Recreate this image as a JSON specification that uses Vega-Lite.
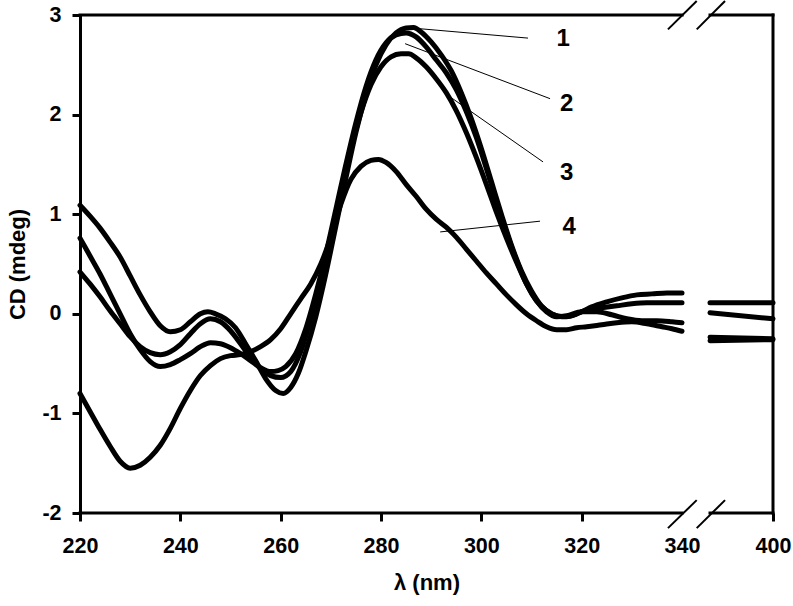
{
  "$schema": "https://vega.github.io/schema/vega-lite/v6.json",
  "width": 693,
  "height": 498,
  "autosize": {"type": "none"},
  "padding": {"left": 80, "top": 15, "right": 20, "bottom": 93},
  "background": "white",
  "config": {"view": {"stroke": null}, "font": "Liberation Sans"},
  "datasets": {
    "curves": [
      {"id":"A","x":220,"y":1.09},{"id":"A","x":222,"y":0.98},{"id":"A","x":224,"y":0.86},{"id":"A","x":226,"y":0.72},{"id":"A","x":228,"y":0.57},{"id":"A","x":230,"y":0.38},{"id":"A","x":232,"y":0.19},{"id":"A","x":234,"y":0.02},{"id":"A","x":236,"y":-0.12},{"id":"A","x":238,"y":-0.18},{"id":"A","x":240,"y":-0.16},{"id":"A","x":242,"y":-0.08},{"id":"A","x":244,"y":0.0},{"id":"A","x":245.5,"y":0.02},{"id":"A","x":247,"y":0.0},{"id":"A","x":249,"y":-0.05},{"id":"A","x":251,"y":-0.14},{"id":"A","x":253,"y":-0.3},{"id":"A","x":255,"y":-0.47},{"id":"A","x":257,"y":-0.65},{"id":"A","x":259,"y":-0.77},{"id":"A","x":260.5,"y":-0.8},{"id":"A","x":262,"y":-0.74},{"id":"A","x":263.5,"y":-0.6},{"id":"A","x":265,"y":-0.38},{"id":"A","x":267,"y":-0.03},{"id":"A","x":269,"y":0.4},{"id":"A","x":271,"y":0.88},{"id":"A","x":273,"y":1.36},{"id":"A","x":275,"y":1.82},{"id":"A","x":277,"y":2.2},{"id":"A","x":279,"y":2.5},{"id":"A","x":281,"y":2.7},{"id":"A","x":283,"y":2.82},{"id":"A","x":285,"y":2.87},{"id":"A","x":286.5,"y":2.875},{"id":"A","x":288,"y":2.83},{"id":"A","x":290,"y":2.73},{"id":"A","x":292,"y":2.6},{"id":"A","x":294,"y":2.44},{"id":"A","x":296,"y":2.22},{"id":"A","x":298,"y":1.96},{"id":"A","x":300,"y":1.66},{"id":"A","x":302,"y":1.33},{"id":"A","x":304,"y":1.0},{"id":"A","x":306,"y":0.69},{"id":"A","x":308,"y":0.43},{"id":"A","x":310,"y":0.23},{"id":"A","x":312,"y":0.08},{"id":"A","x":314,"y":0.0},{"id":"A","x":316,"y":-0.03},{"id":"A","x":318,"y":-0.02},{"id":"A","x":320,"y":0.02},{"id":"A","x":322,"y":0.07},{"id":"A","x":325,"y":0.12},{"id":"A","x":328,"y":0.16},{"id":"A","x":331,"y":0.19},{"id":"A","x":334,"y":0.2},{"id":"A","x":337,"y":0.21},{"id":"A","x":340,"y":0.21},
      {"id":"B","x":220,"y":0.76},{"id":"B","x":222,"y":0.58},{"id":"B","x":224,"y":0.4},{"id":"B","x":226,"y":0.2},{"id":"B","x":228,"y":0.0},{"id":"B","x":230,"y":-0.2},{"id":"B","x":232,"y":-0.36},{"id":"B","x":234,"y":-0.48},{"id":"B","x":236,"y":-0.53},{"id":"B","x":238,"y":-0.51},{"id":"B","x":240,"y":-0.46},{"id":"B","x":242,"y":-0.4},{"id":"B","x":244,"y":-0.33},{"id":"B","x":246,"y":-0.29},{"id":"B","x":248,"y":-0.3},{"id":"B","x":250,"y":-0.34},{"id":"B","x":252,"y":-0.4},{"id":"B","x":254,"y":-0.47},{"id":"B","x":256,"y":-0.54},{"id":"B","x":258,"y":-0.58},{"id":"B","x":259.5,"y":-0.57},{"id":"B","x":261,"y":-0.53},{"id":"B","x":263,"y":-0.4},{"id":"B","x":265,"y":-0.15},{"id":"B","x":267,"y":0.2},{"id":"B","x":269,"y":0.6},{"id":"B","x":271,"y":1.05},{"id":"B","x":273,"y":1.5},{"id":"B","x":275,"y":1.92},{"id":"B","x":277,"y":2.28},{"id":"B","x":279,"y":2.55},{"id":"B","x":281,"y":2.72},{"id":"B","x":283,"y":2.8},{"id":"B","x":285,"y":2.82},{"id":"B","x":287,"y":2.78},{"id":"B","x":289,"y":2.68},{"id":"B","x":291,"y":2.55},{"id":"B","x":293,"y":2.42},{"id":"B","x":295,"y":2.25},{"id":"B","x":297,"y":2.03},{"id":"B","x":299,"y":1.77},{"id":"B","x":301,"y":1.46},{"id":"B","x":303,"y":1.13},{"id":"B","x":305,"y":0.82},{"id":"B","x":307,"y":0.54},{"id":"B","x":309,"y":0.3},{"id":"B","x":311,"y":0.13},{"id":"B","x":313,"y":0.03},{"id":"B","x":315,"y":-0.02},{"id":"B","x":317,"y":-0.03},{"id":"B","x":319,"y":0.0},{"id":"B","x":321,"y":0.04},{"id":"B","x":324,"y":0.06},{"id":"B","x":327,"y":0.08},{"id":"B","x":330,"y":0.1},{"id":"B","x":333,"y":0.11},{"id":"B","x":336,"y":0.11},{"id":"B","x":340,"y":0.11},
      {"id":"C","x":220,"y":0.42},{"id":"C","x":222,"y":0.3},{"id":"C","x":224,"y":0.17},{"id":"C","x":226,"y":0.03},{"id":"C","x":228,"y":-0.1},{"id":"C","x":230,"y":-0.23},{"id":"C","x":232,"y":-0.33},{"id":"C","x":234,"y":-0.39},{"id":"C","x":236,"y":-0.41},{"id":"C","x":238,"y":-0.38},{"id":"C","x":240,"y":-0.31},{"id":"C","x":242,"y":-0.2},{"id":"C","x":244,"y":-0.1},{"id":"C","x":246,"y":-0.05},{"id":"C","x":248,"y":-0.08},{"id":"C","x":250,"y":-0.17},{"id":"C","x":252,"y":-0.3},{"id":"C","x":254,"y":-0.44},{"id":"C","x":256,"y":-0.55},{"id":"C","x":258,"y":-0.62},{"id":"C","x":260,"y":-0.64},{"id":"C","x":262,"y":-0.58},{"id":"C","x":264,"y":-0.38},{"id":"C","x":266,"y":-0.05},{"id":"C","x":268,"y":0.35},{"id":"C","x":270,"y":0.78},{"id":"C","x":272,"y":1.22},{"id":"C","x":274,"y":1.65},{"id":"C","x":276,"y":2.02},{"id":"C","x":278,"y":2.3},{"id":"C","x":280,"y":2.48},{"id":"C","x":282,"y":2.58},{"id":"C","x":284,"y":2.61},{"id":"C","x":285.5,"y":2.61},{"id":"C","x":287,"y":2.57},{"id":"C","x":289,"y":2.48},{"id":"C","x":291,"y":2.36},{"id":"C","x":293,"y":2.22},{"id":"C","x":295,"y":2.04},{"id":"C","x":297,"y":1.82},{"id":"C","x":299,"y":1.57},{"id":"C","x":301,"y":1.3},{"id":"C","x":303,"y":1.02},{"id":"C","x":305,"y":0.76},{"id":"C","x":307,"y":0.52},{"id":"C","x":309,"y":0.3},{"id":"C","x":311,"y":0.13},{"id":"C","x":313,"y":0.02},{"id":"C","x":315,"y":-0.03},{"id":"C","x":317,"y":-0.02},{"id":"C","x":320,"y":0.02},{"id":"C","x":323,"y":0.02},{"id":"C","x":326,"y":-0.01},{"id":"C","x":329,"y":-0.05},{"id":"C","x":332,"y":-0.07},{"id":"C","x":335,"y":-0.07},{"id":"C","x":338,"y":-0.08},{"id":"C","x":340,"y":-0.09},
      {"id":"D","x":220,"y":-0.8},{"id":"D","x":222,"y":-0.98},{"id":"D","x":224,"y":-1.16},{"id":"D","x":226,"y":-1.33},{"id":"D","x":228,"y":-1.48},{"id":"D","x":230,"y":-1.55},{"id":"D","x":232,"y":-1.52},{"id":"D","x":234,"y":-1.44},{"id":"D","x":236,"y":-1.32},{"id":"D","x":238,"y":-1.15},{"id":"D","x":240,"y":-0.95},{"id":"D","x":242,"y":-0.77},{"id":"D","x":244,"y":-0.62},{"id":"D","x":246,"y":-0.52},{"id":"D","x":248,"y":-0.45},{"id":"D","x":250,"y":-0.42},{"id":"D","x":252,"y":-0.41},{"id":"D","x":254,"y":-0.38},{"id":"D","x":256,"y":-0.33},{"id":"D","x":258,"y":-0.26},{"id":"D","x":260,"y":-0.15},{"id":"D","x":262,"y":0.0},{"id":"D","x":264,"y":0.15},{"id":"D","x":266,"y":0.3},{"id":"D","x":268,"y":0.5},{"id":"D","x":270,"y":0.77},{"id":"D","x":272,"y":1.1},{"id":"D","x":274,"y":1.35},{"id":"D","x":276,"y":1.48},{"id":"D","x":278,"y":1.54},{"id":"D","x":279.5,"y":1.55},{"id":"D","x":281,"y":1.52},{"id":"D","x":283,"y":1.43},{"id":"D","x":285,"y":1.3},{"id":"D","x":287,"y":1.18},{"id":"D","x":289,"y":1.05},{"id":"D","x":291,"y":0.95},{"id":"D","x":293,"y":0.87},{"id":"D","x":295,"y":0.77},{"id":"D","x":297,"y":0.65},{"id":"D","x":299,"y":0.53},{"id":"D","x":301,"y":0.41},{"id":"D","x":303,"y":0.3},{"id":"D","x":305,"y":0.19},{"id":"D","x":307,"y":0.09},{"id":"D","x":309,"y":0.0},{"id":"D","x":311,"y":-0.07},{"id":"D","x":313,"y":-0.13},{"id":"D","x":315,"y":-0.16},{"id":"D","x":317,"y":-0.16},{"id":"D","x":319,"y":-0.14},{"id":"D","x":321,"y":-0.13},{"id":"D","x":324,"y":-0.11},{"id":"D","x":327,"y":-0.09},{"id":"D","x":330,"y":-0.08},{"id":"D","x":333,"y":-0.1},{"id":"D","x":336,"y":-0.13},{"id":"D","x":338,"y":-0.15},{"id":"D","x":340,"y":-0.175},
      {"id":"Ar","x":387,"y":0.11},{"id":"Ar","x":400,"y":0.11},
      {"id":"Br","x":387,"y":0.01},{"id":"Br","x":400,"y":-0.05},
      {"id":"Cr","x":387,"y":-0.235},{"id":"Cr","x":400,"y":-0.25},
      {"id":"Dr","x":387,"y":-0.27},{"id":"Dr","x":400,"y":-0.26}
    ],
    "frame": [
      {"x":220,"x2":340.2,"y":3,"y2":3},
      {"x":387,"x2":400,"y":3,"y2":3},
      {"x":220,"x2":340.2,"y":-2,"y2":-2},
      {"x":387,"x2":400,"y":-2,"y2":-2},
      {"x":400,"x2":400,"y":-2,"y2":3}
    ],
    "breaks": [
      {"x":337.2,"x2":364.7,"y":-2.152,"y2":-1.871},
      {"x":364.7,"x2":390.1,"y":-2.152,"y2":-1.871},
      {"x":337.2,"x2":364.7,"y":2.856,"y2":3.14},
      {"x":364.7,"x2":390.1,"y":2.856,"y2":3.14}
    ],
    "leaders": [
      {"x":287.8,"x2":309.3,"y":2.862,"y2":2.768},
      {"x":284.8,"x2":313.7,"y":2.712,"y2":2.16},
      {"x":293.8,"x2":312.3,"y":2.177,"y2":1.525},
      {"x":291.8,"x2":311.7,"y":0.822,"y2":0.93}
    ],
    "labels": [
      {"x":316.3,"y":2.76,"t":"1"},
      {"x":317.0,"y":2.105,"t":"2"},
      {"x":317.0,"y":1.416,"t":"3"},
      {"x":317.5,"y":0.87,"t":"4"}
    ]
  },
  "encoding": {
    "x": {
      "field": "x", "type": "quantitative",
      "scale": {"domain": [220, 340, 387, 400], "range": [0, 602, 630, 693], "nice": false, "zero": false},
      "axis": {
        "title": "λ (nm)", "values": [220, 240, 260, 280, 300, 320, 340, 400],
        "domain": false, "grid": false,
        "ticks": true, "tickSize": 8, "tickWidth": 3,
        "tickColor": {"condition": {"test": "datum.value == 340", "value": "transparent"}, "value": "black"},
        "labelFont": "Liberation Sans", "labelFontSize": 21.5, "labelFontWeight": "bold", "labelColor": "black",
        "labelPadding": 14, "labelFlush": false, "labelOverlap": false,
        "titleFont": "Liberation Sans", "titleFontSize": 22, "titleFontWeight": "bold", "titleColor": "black",
        "titlePadding": 16
      }
    },
    "y": {
      "field": "y", "type": "quantitative",
      "scale": {"domain": [-2, 3], "nice": false, "zero": false},
      "axis": {
        "title": "CD (mdeg)", "values": [-2, -1, 0, 1, 2, 3],
        "labelExpr": "datum.value + ''",
        "domain": true, "domainColor": "black", "domainWidth": 3, "grid": false,
        "ticks": true, "tickSize": 8, "tickWidth": 3, "tickColor": "black",
        "labelFont": "Liberation Sans", "labelFontSize": 21.5, "labelFontWeight": "bold", "labelColor": "black",
        "labelPadding": 11, "labelFlush": false, "labelOverlap": false,
        "titleFont": "Liberation Sans", "titleFontSize": 22, "titleFontWeight": "bold", "titleColor": "black",
        "titlePadding": 12
      }
    }
  },
  "layer": [
    {
      "data": {"name": "curves"},
      "mark": {"type": "line", "interpolate": "monotone", "strokeWidth": 5, "strokeCap": "round", "strokeJoin": "round", "color": "black"},
      "encoding": {"detail": {"field": "id"}}
    },
    {
      "data": {"name": "frame"},
      "mark": {"type": "rule", "strokeWidth": 3, "color": "black", "strokeCap": "square"},
      "encoding": {"x2": {"field": "x2"}, "y2": {"field": "y2"}}
    },
    {
      "data": {"name": "breaks"},
      "mark": {"type": "rule", "strokeWidth": 2, "color": "black"},
      "encoding": {"x2": {"field": "x2"}, "y2": {"field": "y2"}}
    },
    {
      "data": {"name": "leaders"},
      "mark": {"type": "rule", "strokeWidth": 1, "color": "black"},
      "encoding": {"x2": {"field": "x2"}, "y2": {"field": "y2"}}
    },
    {
      "data": {"name": "labels"},
      "mark": {"type": "text", "font": "Liberation Sans", "fontSize": 24, "fontWeight": "bold", "color": "black", "align": "center", "baseline": "middle"},
      "encoding": {"text": {"field": "t"}}
    }
  ]
}
